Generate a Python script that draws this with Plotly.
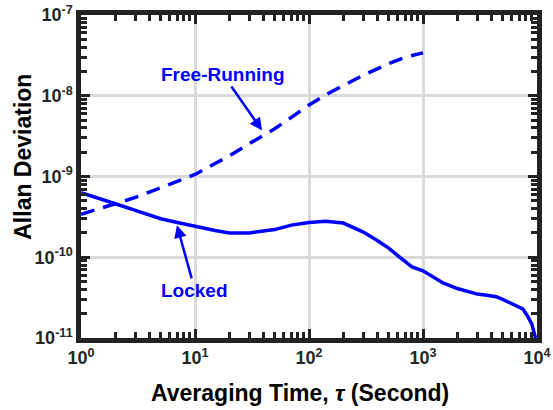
import plotly.graph_objects as go

free_tau = [1, 1.5, 2, 3, 5, 7, 10, 15, 20, 30, 50, 70, 100, 150, 200, 300, 500, 700, 1000]
free_adev = [3.4e-10, 4.0e-10, 4.6e-10, 5.5e-10, 7.3e-10, 8.8e-10, 1.06e-9, 1.45e-9,
             1.8e-9, 2.55e-9, 3.9e-9, 5.4e-9, 7.7e-9, 1.08e-8, 1.33e-8, 1.8e-8,
             2.5e-8, 3.0e-8, 3.4e-8]

locked_tau = [1, 1.5, 2, 3, 5, 7, 10, 15, 20, 30, 50, 70, 100, 140, 200, 300, 400,
              500, 600, 700, 800, 1000, 1200, 1500, 2000, 2600, 3000, 3500, 4000,
              4400, 5000, 5500, 6600, 7500, 8200, 9000, 9300, 9500, 9700]
locked_adev = [6.3e-10, 5.3e-10, 4.6e-10, 3.8e-10, 3.0e-10, 2.7e-10, 2.4e-10, 2.15e-10,
               2.0e-10, 2.0e-10, 2.2e-10, 2.5e-10, 2.7e-10, 2.8e-10, 2.65e-10, 2.05e-10,
               1.6e-10, 1.3e-10, 1.05e-10, 8.7e-11, 7.6e-11, 6.8e-11, 5.8e-11, 4.8e-11,
               4.1e-11, 3.7e-11, 3.5e-11, 3.4e-11, 3.3e-11, 3.25e-11, 3.0e-11, 2.8e-11,
               2.5e-11, 2.3e-11, 1.9e-11, 1.5e-11, 1.25e-11, 1.1e-11, 1.0e-11]

x_ticks = [1, 10, 100, 1000, 10000]
x_labels = ["10<sup>0</sup>", "10<sup>1</sup>", "10<sup>2</sup>", "10<sup>3</sup>", "10<sup>4</sup>"]
y_ticks = [1e-11, 1e-10, 1e-9, 1e-8, 1e-7]
y_labels = ["10<sup>-11</sup>", "10<sup>-10</sup>", "10<sup>-9</sup>", "10<sup>-8</sup>", "10<sup>-7</sup>"]

x_minor = [m * 10 ** e for e in range(0, 4) for m in range(2, 10)]
y_minor = [m * 10.0 ** e for e in range(-11, -7) for m in range(2, 10)]

blue = "#0000FF"
fig = go.Figure()
fig.add_trace(go.Scatter(x=free_tau, y=free_adev, mode="lines",
                         line=dict(color=blue, width=3.5, dash="14px,9px")))
fig.add_trace(go.Scatter(x=locked_tau, y=locked_adev, mode="lines",
                         line=dict(color=blue, width=3.5)))

font_family = "Liberation Sans, Arial, sans-serif"
fig.add_annotation(x=1.588, y=-8.43, xref="x", yref="y", text="Free-Running",
                   showarrow=True, ax=-39, ay=-56,
                   arrowhead=2, arrowsize=1, arrowwidth=2.5, arrowcolor=blue,
                   font=dict(family=font_family, size=19, color=blue, weight="bold"),
                   standoff=0)
fig.add_annotation(x=0.842, y=-9.605, xref="x", yref="y", text="Locked",
                   showarrow=True, ax=18, ay=65,
                   arrowhead=2, arrowsize=1, arrowwidth=2.5, arrowcolor=blue,
                   font=dict(family=font_family, size=19, color=blue, weight="bold"),
                   standoff=0)

# axis titles
fig.add_annotation(x=-0.128, y=0.56, xref="paper", yref="paper", text="Allan Deviation",
                   textangle=-90, showarrow=False, xanchor="center", yanchor="middle",
                   font=dict(family=font_family, size=23, color="black", weight="bold"))
fig.add_annotation(x=0.48, y=-0.17, xref="paper", yref="paper",
                   text="Averaging Time, <i>τ</i> (Second)",
                   showarrow=False, xanchor="center", yanchor="middle",
                   font=dict(family=font_family, size=23, color="black", weight="bold"))

axis_common = dict(
    type="log", showline=True, linecolor="#222222", linewidth=4.5, mirror="ticks",
    ticks="inside", ticklen=9, tickwidth=3, tickcolor="#222222",
    showgrid=True, gridcolor="#dadada", gridwidth=2.5, zeroline=False,
    tickmode="array", automargin=False,
    tickfont=dict(family=font_family, size=18, color="#262626", weight="bold"),
    minor=dict(ticks="inside", ticklen=6, tickwidth=2.5, tickcolor="#222222",
               showgrid=False, tickmode="array"),
)
fig.update_xaxes(**axis_common)
fig.update_yaxes(**axis_common)
fig.update_xaxes(range=[0, 4], tickvals=x_ticks, ticktext=x_labels,
                 minor_tickvals=x_minor)
fig.update_yaxes(range=[-11, -7], tickvals=y_ticks, ticktext=y_labels,
                 minor_tickvals=y_minor)
fig.update_layout(width=553, height=410, margin=dict(l=81, r=16, t=15, b=72),
                  plot_bgcolor="white", paper_bgcolor="white", showlegend=False)
fig.write_html("out.html")
